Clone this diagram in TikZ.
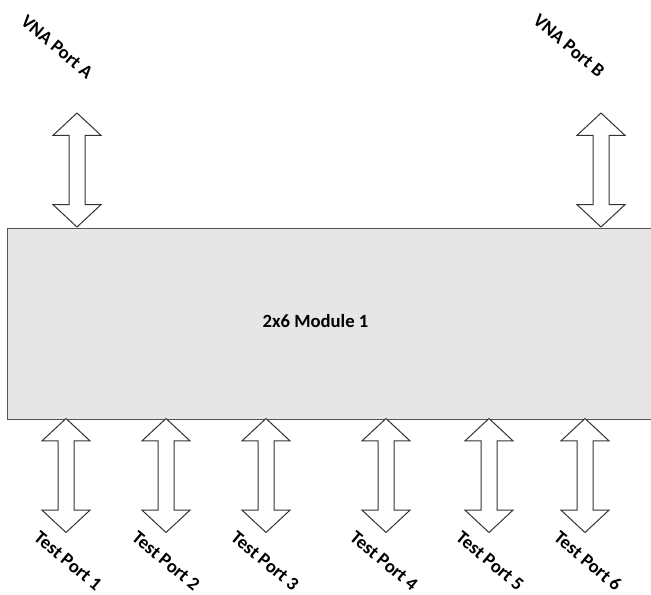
\documentclass[tikz,border=0pt]{standalone}
\usepackage{fontspec}
\setmainfont{Carlito}
\usetikzlibrary{shapes.arrows}
\definecolor{boxfill}{HTML}{E6E6E6}
\definecolor{boxline}{HTML}{555555}
\definecolor{arrline}{HTML}{333333}
\begin{document}
\begin{tikzpicture}[x=0.75pt,y=-0.75pt,
  lbl/.style={font=\bfseries\fontsize{14}{16}\selectfont, rotate=-40, inner sep=0pt},
  dbl/.style={double arrow, draw=arrline, line width=0.75pt, fill=white, rotate=90,
    minimum height=85.5pt, minimum width=35.25pt, inner sep=0pt, inner ysep=5.625pt,
    double arrow head extend=12pt, double arrow tip angle=94},
  modbox/.style={fill=boxfill, inner sep=0pt, minimum width=482.25pt, minimum height=142.5pt},
]
\useasboundingbox (0,0) rectangle (651,594);
% module box (its right side runs off the picture)
\node[modbox] (mod) at (329.5,324) {};
\draw[boxline, line width=0.9pt] (mod.north east) -- (mod.north west) -- (mod.south west) -- (mod.south east);
\node[font=\bfseries\fontsize{14}{16}\selectfont, inner sep=0pt] (modlbl) at (315.5,321) {2x6 Module 1};
% VNA ports
\node[dbl] (arrA) at (77,170) {};
\node[dbl] (arrB) at (601,170) {};
\node[lbl] (vnaA) at (57,47) {VNA Port A};
\node[lbl] (vnaB) at (569,46) {VNA Port B};
% test ports
\foreach \i/\ax/\lx in {1/66/68, 2/166/166, 3/266/265, 4/386/384, 5/489/490, 6/585/588} {
  \node[dbl] (arr\i) at (\ax,475.5) {};
  \node[lbl] (tp\i) at (\lx,561) {Test Port \i};
}
\end{tikzpicture}
\end{document}
